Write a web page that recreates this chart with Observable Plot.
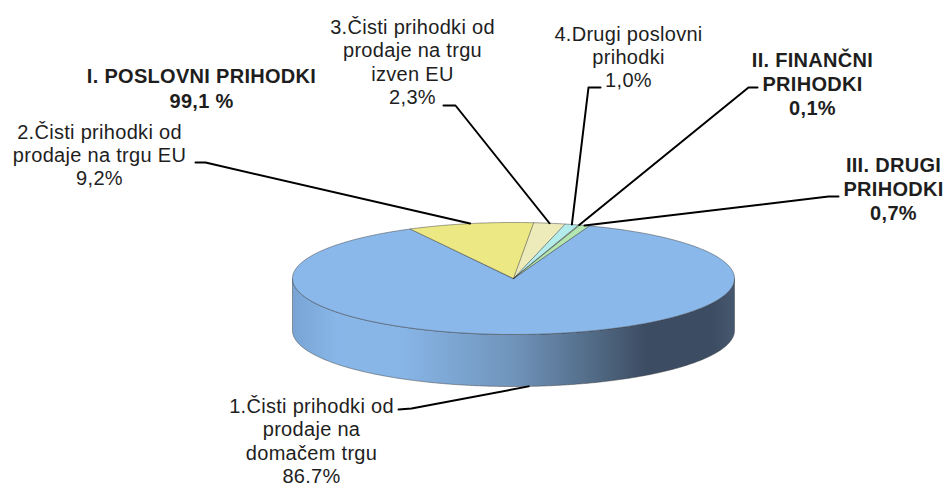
<!DOCTYPE html>
<html><head><meta charset="utf-8">
<script src="https://cdn.jsdelivr.net/npm/d3@7"></script>
<script src="https://cdn.jsdelivr.net/npm/@observablehq/plot@0.6"></script>
<style>body{margin:0;background:#fff} svg text{letter-spacing:0.3px}</style>
</head><body><div id="chart"></div>
<script>
// ---- data ----
const categories = [
  "1.Čisti prihodki od prodaje na domačem trgu",
  "2.Čisti prihodki od prodaje na trgu EU",
  "3.Čisti prihodki od prodaje na trgu izven EU",
  "4.Drugi poslovni prihodki",
  "II. FINANČNI PRIHODKI",
  "III. DRUGI PRIHODKI"
];
const values = [86.7, 9.2, 2.3, 1.0, 0.1, 0.7];
const labels = [
  "1.Čisti prihodki od\nprodaje na\ndomačem trgu\n86.7%",
  "2.Čisti prihodki od\nprodaje na trgu EU\n9,2%",
  "3.Čisti prihodki od\nprodaje na trgu\nizven EU\n2,3%",
  "4.Drugi poslovni\nprihodki\n1,0%",
  "II. FINANČNI\nPRIHODKI\n0,1%",
  "III. DRUGI\nPRIHODKI\n0,7%"
];
const boldLabels = [false, false, false, false, true, true];
const groupLabel = "I. POSLOVNI PRIHODKI\n99,1 %";

// ---- styling / layout ----
const colors = ["#8ab8ea", "#ece985", "#eeebbb", "#b4ecec", "#b8e4c8", "#b3e6b0"];
const W = 948, H = 488;
const cx = 513, cy = 278, rx = 221, ry = 56, depth = 52;
const startAngle = 20 * Math.PI / 180;
const labelPos = [[311, 440], [99, 154], [412, 61], [628, 56], [812, 83], [893, 188]];
const elbows = [
  [[398, 409], [411, 408]],
  [[195, 162], [205, 162]],
  [[443, 105], [455, 105]],
  [[600, 87], [588, 87]],
  [[757, 87], [748, 87]],
  [[838, 196], [828, 196]]
];
const groupPos = [201, 87];

// ---- geometry from data ----
const arcs = d3.pie().sort(null).startAngle(startAngle).endAngle(startAngle + 2 * Math.PI)(values);
const px = (a) => cx + rx * Math.sin(a);
const py = (a, dy = 0) => cy - ry * Math.cos(a) + dy;

const topPts = [];
arcs.forEach((a, i) => {
  topPts.push({s: i, x: cx, y: cy});
  const n = Math.max(2, Math.ceil((a.endAngle - a.startAngle) / 0.01));
  for (let k = 0; k <= n; k++) {
    const t = a.startAngle + (a.endAngle - a.startAngle) * k / n;
    topPts.push({s: i, x: px(t), y: py(t)});
  }
});

// visible side wall portions (front half: angles π/2 .. 3π/2, mod 2π)
const sidePts = [];
arcs.forEach((a, i) => {
  for (const off of [0, 2 * Math.PI, -2 * Math.PI]) {
    const lo = Math.max(a.startAngle + off, Math.PI / 2);
    const hi = Math.min(a.endAngle + off, 3 * Math.PI / 2);
    if (hi > lo) {
      const n = Math.max(2, Math.ceil((hi - lo) / 0.01));
      const key = i + "_" + off;
      for (let k = 0; k <= n; k++) { const t = lo + (hi - lo) * k / n; sidePts.push({s: key, c: i, x: px(t), y: py(t)}); }
      for (let k = n; k >= 0; k--) { const t = lo + (hi - lo) * k / n; sidePts.push({s: key, c: i, x: px(t), y: py(t, depth)}); }
    }
  }
});

// leader lines
const leaderPts = [];
arcs.forEach((a, i) => {
  const m = (a.startAngle + a.endAngle) / 2;
  const front = Math.cos(m) < 0;
  const [e1, e2] = elbows[i];
  leaderPts.push({s: i, x: e1[0], y: e1[1]});
  leaderPts.push({s: i, x: e2[0], y: e2[1]});
  leaderPts.push({s: i, x: px(m), y: py(m, front ? depth : 0)});
});

const labelData = labels.map((t, i) => ({t, x: labelPos[i][0], y: labelPos[i][1], b: boldLabels[i]}));

const chart = Plot.plot({
  width: W, height: H, margin: 0,
  x: {domain: [0, W], range: [0, W], axis: null},
  y: {domain: [0, H], range: [0, H], axis: null},
  marks: [
    Plot.line(sidePts, {x: "x", y: "y", z: "s", curve: "linear-closed",
      fill: (d) => d.c === 0 ? "url(#sideGrad)" : colors[d.c], stroke: "#3a3a3a", strokeWidth: 0.6, strokeOpacity: 0.8}),
    Plot.line(topPts, {x: "x", y: "y", z: "s", curve: "linear-closed",
      fill: (d) => colors[d.s], stroke: "#3a3a3a", strokeWidth: 0.6, strokeOpacity: 0.8}),
    Plot.line(leaderPts, {x: "x", y: "y", z: "s", stroke: "#000", strokeWidth: 2}),
    Plot.text(labelData.filter(d => !d.b), {x: "x", y: "y", text: "t", fontSize: 20, lineHeight: 1.16,
      fontFamily: "Liberation Sans, Arial, sans-serif", fill: "#1e1e1e", textAnchor: "middle", lineAnchor: "middle"}),
    Plot.text(labelData.filter(d => d.b), {x: "x", y: "y", text: "t", fontSize: 20, lineHeight: 1.2, fontWeight: "bold",
      fontFamily: "Liberation Sans, Arial, sans-serif", fill: "#1e1e1e", textAnchor: "middle", lineAnchor: "middle"}),
    Plot.text([groupLabel], {x: groupPos[0], y: groupPos[1], text: d => d, fontSize: 20, lineHeight: 1.25, fontWeight: "bold",
      fontFamily: "Liberation Sans, Arial, sans-serif", fill: "#1e1e1e", textAnchor: "middle", lineAnchor: "middle"})
  ]
});

const svg = d3.select(chart);
const defs = svg.insert("defs", ":first-child");
const g = defs.append("linearGradient").attr("id", "sideGrad").attr("x1", "0").attr("x2", "1").attr("y1", "0").attr("y2", "0");
[[0, "#78a4d4"], [0.1, "#88b6e8"], [0.25, "#87b5e6"], [0.5, "#7094bb"], [0.72, "#4b617a"], [0.8, "#3c4c63"], [0.95, "#3c4c63"], [1, "#46586f"]]
  .forEach(([o, c]) => g.append("stop").attr("offset", o).attr("stop-color", c));
document.getElementById("chart").appendChild(chart);
</script>
</body></html>
